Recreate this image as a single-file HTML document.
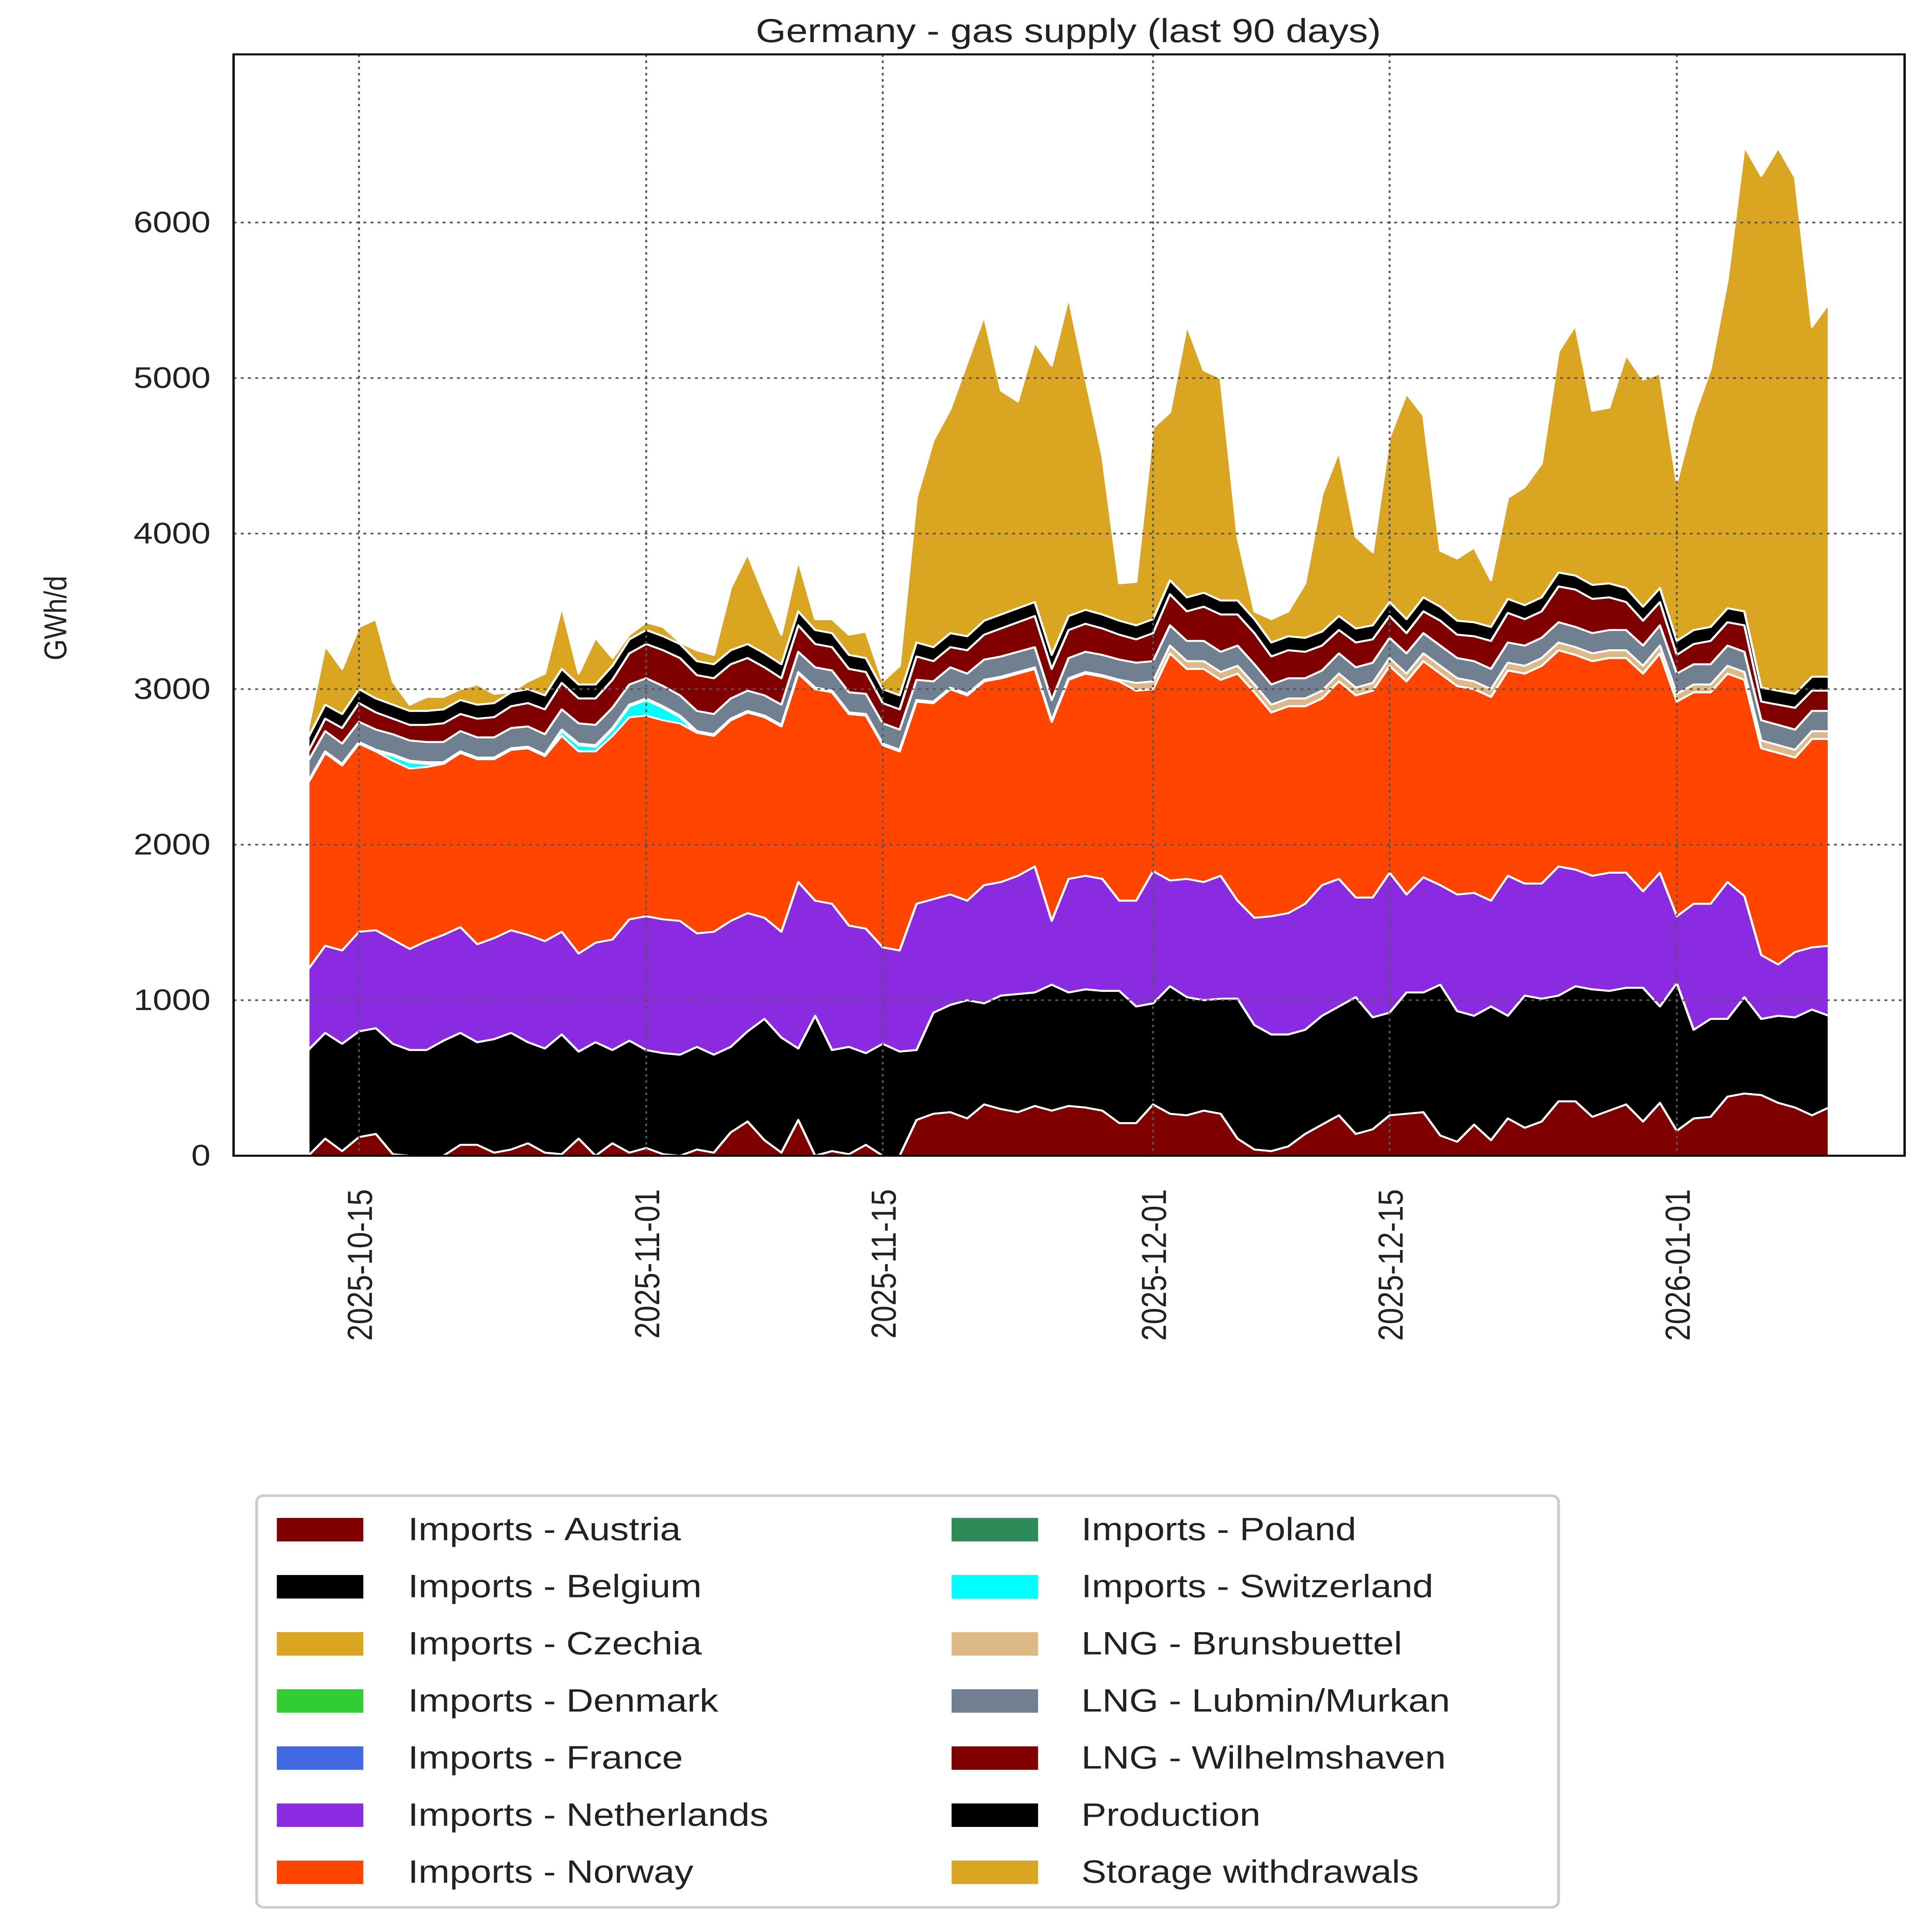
<!DOCTYPE html>
<html><head><meta charset="utf-8"><style>
html,body{margin:0;padding:0;background:#fff;width:100vw;height:100vh;overflow:hidden;}
svg{display:block;position:fixed;left:0;top:0;width:100vw;height:100vh;font-family:"Liberation Sans",Arial,sans-serif;}
</style></head><body>
<svg id="chart" viewBox="0 0 1340 1563" preserveAspectRatio="none" xmlns="http://www.w3.org/2000/svg">
<rect x="0" y="0" width="1340" height="1563" fill="#fff"/>
<text x="741" y="34" text-anchor="middle" font-size="27" fill="#222">Germany - gas supply (last 90 days)</text>
<g id="areas"></g>
<g id="grid"></g>
<rect x="162" y="44" width="1159" height="891" fill="none" stroke="#000" stroke-width="1.6"/>
<g id="yticks"></g>
<g id="xticks"></g>
<text transform="translate(46,500) rotate(-90)" text-anchor="middle" font-size="22" fill="#222">GWh/d</text>
<g id="legend"></g>
</svg>
<script>
const startDate = "2025-10-12";
const austria = [0,110,30,120,140,10,0,0,0,70, 70,20,40,80,20,10,110,0,80,20, 50,10,0,40,20,150,220,100,20,230, 0,30,10,70,0,0,230,270,280,240, 330,300,280,320,290,320,310,290,210,210, 330,270,260,290,270,110,40,30,60,140, 200,260,140,170,260,270,280,130,90,200, 100,240,180,220,350,350,250,290,330,220, 340,160,240,250,380,400,390,340,310,260, 310];
const belgium = [680,680,690,680,680,710,680,680,740,720, 660,730,750,650,670,770,560,730,600,720, 630,650,650,660,630,550,580,780,740,460, 900,650,690,590,720,670,450,650,690,760, 650,730,760,730,810,730,760,770,850,750, 650,820,760,710,740,900,800,750,720,670, 700,700,880,720,660,780,770,970,840,700, 860,660,850,790,680,740,820,770,750,860, 620,950,570,630,500,620,490,560,580,680, 590];
const czechia = new Array(91).fill(0);
const denmark = new Array(91).fill(0);
const france = new Array(91).fill(0);
const netherlands = [520,560,600,640,630,670,650,700,680,680, 630,650,660,690,690,660,630,640,710,780, 860,860,860,730,790,810,760,650,680,1070, 740,940,780,800,620,650,940,730,710,640, 760,730,760,810,410,730,730,720,580,680, 850,680,760,760,790,630,690,760,780,810, 840,820,640,770,900,630,740,640,750,790, 680,900,720,740,830,750,730,760,740,620, 860,430,810,740,880,650,410,330,420,400, 450];
const norway = [1200,1240,1190,1210,1150,1150,1160,1120,1100,1120, 1190,1150,1160,1200,1190,1260,1300,1230,1310,1300, 1290,1280,1270,1290,1260,1290,1290,1290,1320,1340, 1360,1360,1360,1370,1300,1280,1300,1260,1320,1320, 1310,1310,1300,1270,1280,1280,1300,1300,1410,1350, 1170,1460,1350,1370,1260,1460,1450,1310,1330,1270, 1200,1270,1300,1330,1330,1370,1390,1360,1340,1310, 1310,1320,1350,1400,1390,1380,1380,1380,1380,1400, 1410,1380,1360,1360,1340,1390,1330,1360,1250,1340, 1330];
const poland = new Array(91).fill(0);
const switzerland = [0,0,0,0,0,30,40,20,0,0, 0,0,0,0,0,30,40,30,40,70, 100,80,40,0,0,0,0,0,0,0, 0,0,0,0,0,0,0,0,0,0, 0,0,0,0,0,0,0,0,0,0, 0,0,0,0,0,0,0,0,0,0, 0,0,0,0,0,0,0,0,0,0, 0,0,0,0,0,0,0,0,0,0, 0,0,0,0,0,0,0,0,0,0, 0];
const brunsbuettel = [10,10,10,10,10,10,10,10,10,10, 10,10,10,10,10,10,10,10,10,10, 10,10,10,10,10,10,10,10,10,10, 10,10,10,10,10,10,10,10,10,10, 10,10,10,10,10,10,10,10,10,50, 50,50,50,50,50,50,50,50,50,50, 50,50,50,50,50,50,50,50,50,50, 50,50,50,50,50,50,50,50,50,50, 50,50,50,50,50,50,50,50,50,50, 50];
const lubmin = [130,130,130,130,130,130,130,130,130,130, 130,130,130,130,130,130,130,130,130,130, 130,130,130,130,130,130,130,130,130,130, 130,130,130,130,130,130,130,130,130,130, 130,130,130,130,130,130,130,130,130,130, 130,130,130,130,130,130,130,130,130,130, 130,130,130,130,130,130,130,130,130,130, 130,130,130,130,130,130,130,130,130,130, 130,130,130,130,130,130,130,130,130,130, 130];
const wilhelmshaven = [60,80,100,120,110,100,100,110,120,110, 120,130,140,150,160,170,160,170,180,200, 220,230,240,230,230,220,210,180,170,170, 150,150,150,140,130,130,150,130,130,150, 160,180,190,200,200,180,180,170,160,150, 180,200,190,220,240,200,200,180,180,170, 160,150,160,150,140,130,140,160,150,160, 180,190,170,170,230,240,220,210,180,160, 150,120,130,150,150,170,120,130,140,130, 130];
const production = [90,90,90,90,90,90,90,90,90,90, 90,90,90,90,90,90,90,90,90,90, 90,90,90,90,90,90,90,90,90,90, 90,90,90,90,90,90,90,90,90,90, 90,90,90,90,90,90,90,90,90,90, 90,90,90,90,90,90,90,90,90,90, 90,90,90,90,90,90,90,90,90,90, 90,90,90,90,90,90,90,90,90,90, 90,90,90,90,90,90,90,90,90,90, 90];
const storage = [60,380,290,400,510,150,40,90,80,70, 130,60,0,50,140,400,70,300,50,30, 50,60,10,70,60,400,580,370,190,330, 70,90,130,170,50,190,930,1330,1440,1760, 1960,1440,1330,1670,1860,2050,1490,1020,240,280, 1230,1080,1750,1430,1430,410,50,150,160,350, 880,1060,590,470,1060,1450,1170,360,400,480, 300,650,760,860,1420,1610,1120,1130,1500,1460, 1380,1020,1370,1660,2110,2990,3290,3490,3320,2250, 2400];
const seriesNames = ["Imports - Austria","Imports - Belgium","Imports - Czechia","Imports - Denmark","Imports - France","Imports - Netherlands","Imports - Norway","Imports - Poland","Imports - Switzerland","LNG - Brunsbuettel","LNG - Lubmin/Murkan","LNG - Wilhelmshaven","Production","Storage withdrawals"];
const seriesData = [austria,belgium,czechia,denmark,france,netherlands,norway,poland,switzerland,brunsbuettel,lubmin,wilhelmshaven,production,storage];
const seriesColors = ["#800000","#000000","#DAA520","#32CD32","#4169E1","#8A2BE2","#FF4500","#2E8B57","#00FFFF","#DEB887","#708090","#800000","#000000","#DAA520"];
const yTicks = [0,1000,2000,3000,4000,5000,6000];
const xTickDates = ["2025-10-15","2025-11-01","2025-11-15","2025-12-01","2025-12-15","2026-01-01"];

const NS="http://www.w3.org/2000/svg";
const DAY=86400000;
const xRef=Date.parse("2025-10-15T00:00:00Z");
const t0=Date.parse(startDate+"T00:00:00Z");
const i0=(t0-xRef)/DAY;
function xDay(i){return 249+(i+i0)*11.718;}
function xDate(s){return 249+(Date.parse(s+"T00:00:00Z")-xRef)/DAY*11.718;}
function yVal(v){return 935-v*0.12583;}
function mk(tag,attrs,parent){const e=document.createElementNS(NS,tag);for(const k in attrs)e.setAttribute(k,attrs[k]);parent.appendChild(e);return e;}

const areas=document.getElementById('areas');
const n=austria.length;
let base=new Array(n).fill(0);
seriesData.forEach((arr,si)=>{
  const top=base.map((b,i)=>b+arr[i]);
  let d="";
  for(let i=0;i<n;i++)d+=(i?"L":"M")+xDay(i).toFixed(2)+","+yVal(top[i]).toFixed(2);
  for(let i=n-1;i>=0;i--)d+="L"+xDay(i).toFixed(2)+","+yVal(base[i]).toFixed(2);
  d+="Z";
  const p=mk('path',{d:d,fill:seriesColors[si],stroke:"#fff","stroke-width":"1.6","stroke-linejoin":"round"},areas);
  
  
  base=top;
});

const grid=document.getElementById('grid');
yTicks.forEach(v=>{
  if(v===0)return;
  const l=mk('line',{x1:162,x2:1321,y1:yVal(v),y2:yVal(v),stroke:"#555","stroke-width":"1.3","stroke-dasharray":"2,3"},grid);
  
  
});
xTickDates.forEach(s=>{
  const x=xDate(s);
  const l=mk('line',{x1:x,x2:x,y1:44,y2:935,stroke:"#555","stroke-width":"1.3","stroke-dasharray":"2,3"},grid);
  
  
});
const yt=document.getElementById('yticks');
yTicks.forEach(v=>{
  const t=mk('text',{x:146,y:yVal(v)+8,"text-anchor":"end","font-size":"24",fill:"#222"},yt);
  t.textContent=String(v);
  
  
});
const xt=document.getElementById('xticks');
xTickDates.forEach(s=>{
  const x=xDate(s);
  const t=mk('text',{transform:"translate("+(x+9)+",962) rotate(-90)","text-anchor":"end","font-size":"24",fill:"#222"},xt);
  t.textContent=s;
  
  
});
const lg=document.getElementById('legend');
const box=mk('rect',{x:178,y:1210,width:903,height:333,rx:5,fill:"#fff",stroke:"#ccc","stroke-width":"2"},lg);


seriesNames.forEach((nm,i)=>{
  const col=i<7?0:1, row=i%7;
  const px=col?660:192, tx=col?750:283, cy=1237+row*46.2;
  const g=mk('g',{},lg);
  
  
  mk('rect',{x:px,y:cy-9,width:60,height:19,fill:seriesColors[i]},g);
  const t=mk('text',{x:tx,y:cy+9,"font-size":"26",fill:"#222"},g);
  t.textContent=nm;
});
</script>
</body></html>
